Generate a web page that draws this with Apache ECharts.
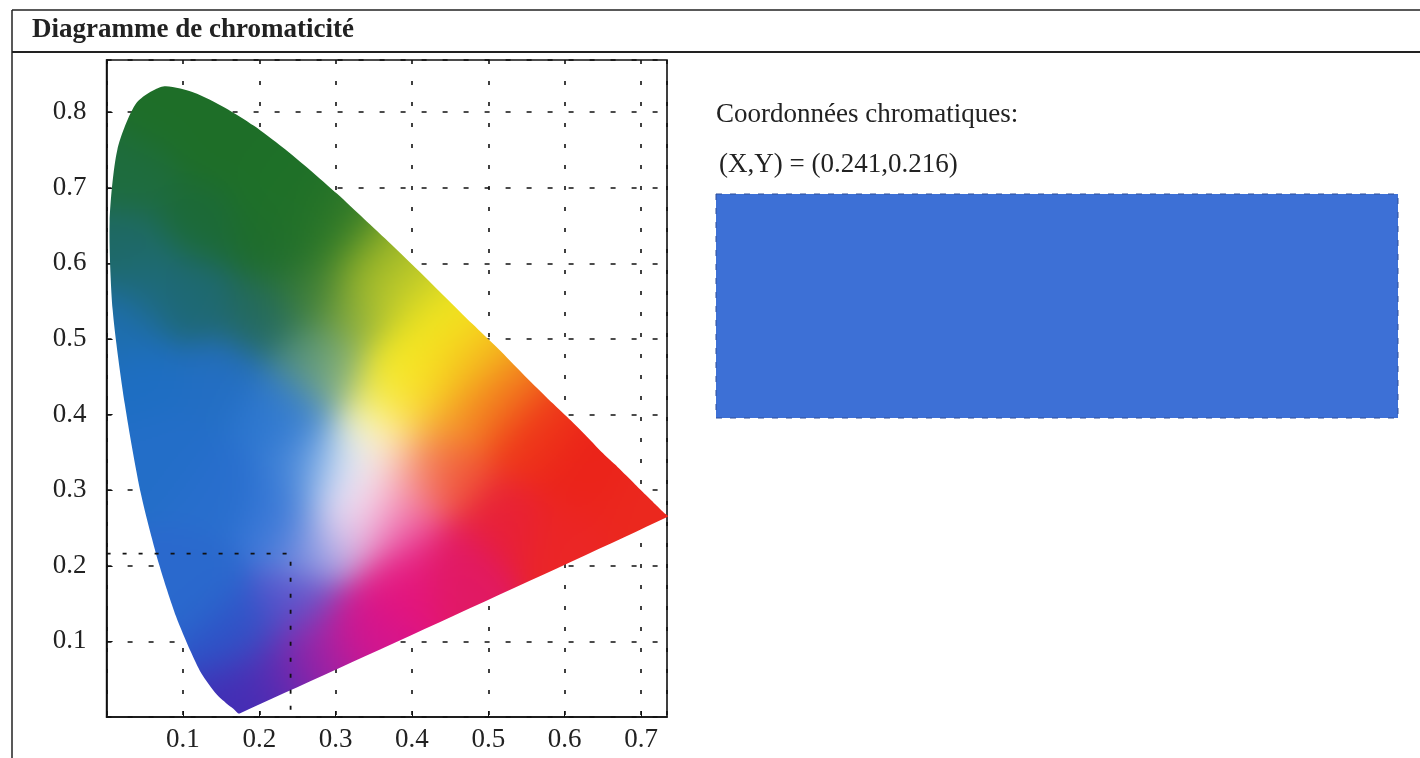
<!DOCTYPE html>
<html><head><meta charset="utf-8">
<script src="https://cdn.jsdelivr.net/npm/echarts@6/dist/echarts.min.js"></script>
<style>html,body{margin:0;padding:0;background:#fff}#c{width:1420px;height:758px}</style>
</head><body><div id="c"></div>
<script>
// ---- data ----
const chartTitle = 'Diagramme de chromaticité';
const panelLabel = 'Coordonnées chromatiques:';
const xTicks = [0.1, 0.2, 0.3, 0.4, 0.5, 0.6, 0.7];
const yTicks = [0.1, 0.2, 0.3, 0.4, 0.5, 0.6, 0.7, 0.8];
// spectral locus boundary
const locusX = [0.175, 0.172, 0.166, 0.157, 0.144, 0.124, 0.110, 0.091, 0.069, 0.045, 0.024, 0.008, 0.004, 0.014, 0.039, 0.074, 0.114, 0.155, 0.193, 0.230, 0.266, 0.302, 0.337, 0.373, 0.409, 0.444, 0.479, 0.513, 0.545, 0.575, 0.603, 0.627, 0.648, 0.666, 0.680, 0.692, 0.701, 0.708, 0.714, 0.719, 0.723, 0.730, 0.735];
const locusY = [0.005, 0.005, 0.011, 0.018, 0.030, 0.058, 0.087, 0.133, 0.201, 0.295, 0.413, 0.538, 0.655, 0.750, 0.812, 0.834, 0.826, 0.806, 0.782, 0.754, 0.724, 0.692, 0.659, 0.625, 0.590, 0.555, 0.520, 0.487, 0.454, 0.424, 0.397, 0.373, 0.351, 0.334, 0.320, 0.308, 0.299, 0.292, 0.286, 0.281, 0.277, 0.270, 0.265];
// selected chromaticity
const selX = [0.241];
const selY = [0.216];

// ---- style: colour field anchors [x, y, r, g, b] ----
const fieldAnchors = [
  [0.07,0.80, 30,110,40],[0.03,0.72, 30,108,62],[0.15,0.76, 30,110,40],[0.22,0.70, 30,112,40],
  [0.12,0.65, 28,106,55],[0.22,0.62, 30,108,45],[0.30,0.64, 50,122,40],[0.02,0.62, 30,105,100],
  [0.27,0.56, 60,125,55],[0.26,0.66, 32,112,40],
  [0.02,0.52, 30,110,175],[0.11,0.55, 30,104,115],[0.20,0.53, 35,105,95],[0.06,0.58, 30,106,120],
  [0.35,0.60, 150,180,40],[0.33,0.53, 140,175,60],[0.38,0.56, 205,210,40],
  [0.42,0.51, 245,232,30],[0.39,0.46, 248,238,40],[0.38,0.42, 250,236,45],[0.41,0.44, 246,222,30],
  [0.36,0.39, 255,246,150],
  [0.46,0.46, 245,195,30],[0.50,0.41, 242,120,30],[0.44,0.39, 245,150,45],
  [0.55,0.36, 238,50,25],[0.62,0.31, 235,35,25],[0.70,0.27, 235,40,30],[0.45,0.32, 240,80,55],
  [0.52,0.26, 232,32,55],[0.60,0.24, 235,38,38],[0.40,0.33, 245,145,105],
  [0.46,0.20, 225,25,100],[0.38,0.18, 228,20,125],[0.33,0.12, 215,20,140],[0.28,0.08, 175,30,160],
  [0.24,0.06, 110,40,175],[0.20,0.035, 65,45,180],
  [0.38,0.25, 235,60,150],[0.37,0.29, 245,150,190],
  [0.32,0.25, 232,205,236],[0.33,0.28, 250,235,248],
  [0.33,0.33, 255,255,255],[0.345,0.36, 255,255,250],[0.32,0.30, 255,252,255],
  [0.29,0.33, 150,195,240],[0.265,0.34, 50,120,210],[0.28,0.225, 150,160,230],[0.25,0.15, 90,85,205],
  [0.22,0.40, 40,115,205],[0.15,0.30, 40,110,205],[0.08,0.35, 35,110,200],[0.05,0.45, 30,110,195],
  [0.15,0.45, 35,110,195],[0.12,0.18, 42,105,205],[0.18,0.11, 45,85,200],[0.23,0.25, 55,118,215],
  [0.24,0.30, 50,118,212],
  [0.27,0.47, 70,135,120],[0.30,0.45, 160,195,120],[0.25,0.40, 60,130,215]
];
const fieldSigma = 0.036;

let fieldCanvas = null;
function buildField(api, pts) {
  const W = 1420, H = 758;
  const c = document.createElement('canvas'); c.width = W; c.height = H;
  const ctx = c.getContext('2d');
  const p0 = api.coord([0, 0]), p1 = api.coord([1, 1]);
  const sx = p1[0] - p0[0], sy = p1[1] - p0[1];
  let bx0 = 1e9, bx1 = -1e9, by0 = 1e9, by1 = -1e9;
  pts.forEach(p => { bx0 = Math.min(bx0, p[0]); bx1 = Math.max(bx1, p[0]); by0 = Math.min(by0, p[1]); by1 = Math.max(by1, p[1]); });
  bx0 = Math.floor(bx0) - 6; by0 = Math.floor(by0) - 6; bx1 = Math.ceil(bx1) + 6; by1 = Math.ceil(by1) + 6;
  const step = 2;
  const w = Math.ceil((bx1 - bx0) / step), h = Math.ceil((by1 - by0) / step);
  const sm = document.createElement('canvas'); sm.width = w; sm.height = h;
  const sctx = sm.getContext('2d');
  const img = sctx.createImageData(w, h);
  const s2 = 2 * fieldSigma * fieldSigma;
  for (let j = 0; j < h; j++) {
    const py = by0 + (j + 0.5) * step;
    const dy = (py - p0[1]) / sy;
    for (let i = 0; i < w; i++) {
      const px = bx0 + (i + 0.5) * step;
      const dx = (px - p0[0]) / sx;
      let ws = 0, r = 0, g = 0, b = 0;
      for (let k = 0; k < fieldAnchors.length; k++) {
        const a = fieldAnchors[k];
        const ex = dx - a[0], ey = dy - a[1];
        const wt = Math.exp(-(ex * ex + ey * ey) / s2) + 1e-30;
        ws += wt; r += wt * a[2]; g += wt * a[3]; b += wt * a[4];
      }
      const o = (j * w + i) * 4;
      img.data[o] = r / ws; img.data[o + 1] = g / ws; img.data[o + 2] = b / ws; img.data[o + 3] = 255;
    }
  }
  sctx.putImageData(img, 0, 0);
  ctx.imageSmoothingEnabled = true;
  ctx.drawImage(sm, bx0, by0, w * step, h * step);
  return c;
}

const serif = '"Liberation Serif", "Times New Roman", serif';
const chart = echarts.init(document.getElementById('c'), null, { renderer: 'canvas' });

const option = {
  animation: false,
  backgroundColor: '#ffffff',
  grid: { left: 106.6, right: 1420 - 667, top: 60, bottom: 758 - 717, show: true, borderColor: '#111', borderWidth: 1.6, backgroundColor: 'transparent' },
  xAxis: {
    type: 'value', min: 0, max: 0.734, interval: 0.1,
    axisLine: { show: true, lineStyle: { color: '#111', width: 1.6 } },
    axisTick: { show: true, inside: true, length: 6, lineStyle: { color: '#111' } },
    axisLabel: { showMinLabel: false, showMaxLabel: false, margin: 9, color: '#222', fontFamily: serif, fontSize: 27,
      formatter: v => xTicks.some(t => Math.abs(t - v) < 1e-6) ? v.toFixed(1) : '' },
    splitLine: { show: true, lineStyle: { color: '#111', width: 1.6, type: [4, 17], dashOffset: 0 } }
  },
  yAxis: {
    type: 'value', min: 0, max: 0.869, interval: 0.1,
    axisLine: { show: true, lineStyle: { color: '#111', width: 1.6 } },
    axisTick: { show: true, inside: true, length: 6, lineStyle: { color: '#111' } },
    axisLabel: { showMinLabel: false, showMaxLabel: false, margin: 20, color: '#222', fontFamily: serif, fontSize: 27,
      formatter: v => yTicks.some(t => Math.abs(t - v) < 1e-6) ? v.toFixed(1) : '' },
    splitLine: { show: true, lineStyle: { color: '#111', width: 1.6, type: [5, 16], dashOffset: 0 } }
  },
  series: [
    {
      type: 'custom',
      coordinateSystem: 'cartesian2d',
      data: locusX.map((x, i) => [x, locusY[i]]),
      z: 2,
      silent: true,
      renderItem: function (params, api) {
        if (params.dataIndex !== 0) return null;
        const pts = locusX.map((x, i) => api.coord([x, locusY[i]]));
        if (!fieldCanvas) fieldCanvas = buildField(api, pts);
        return {
          type: 'polygon',
          shape: { points: pts, smooth: 0.25 },
          style: { fill: { image: fieldCanvas, repeat: 'no-repeat' }, stroke: null }
        };
      }
    },
    {
      type: 'line',
      z: 5,
      silent: true,
      symbol: 'none',
      data: [[0, selY[0]], [selX[0], selY[0]], [selX[0], 0]],
      lineStyle: { color: '#111', width: 1.8, type: [4, 12] }
    }
  ],
  graphic: [
    { type: 'line', shape: { x1: 12, y1: 10, x2: 1420, y2: 10 }, style: { stroke: '#222', lineWidth: 1.5 } },
    { type: 'line', shape: { x1: 12, y1: 10, x2: 12, y2: 758 }, style: { stroke: '#222', lineWidth: 1.5 } },
    { type: 'line', shape: { x1: 12, y1: 52, x2: 1420, y2: 52 }, style: { stroke: '#222', lineWidth: 2 } },
    { type: 'text', left: 32, top: 17, style: { text: chartTitle, font: 'bold 27px ' + serif, fill: '#222' } },
    { type: 'text', left: 716, top: 101, style: { text: panelLabel, font: '27px ' + serif, fill: '#222' } },
    { type: 'text', left: 719, top: 151, style: { text: '(X,Y) = (' + selX[0].toFixed(3) + ',' + selY[0].toFixed(3) + ')', font: '27px ' + serif, fill: '#222' } },
    { type: 'rect', shape: { x: 716, y: 194, width: 682, height: 224 }, style: { fill: '#3d70d6', stroke: '#2f4f9a', lineWidth: 1, lineDash: [6, 8] } }
  ]
};
chart.setOption(option);
</script>
</body></html>
